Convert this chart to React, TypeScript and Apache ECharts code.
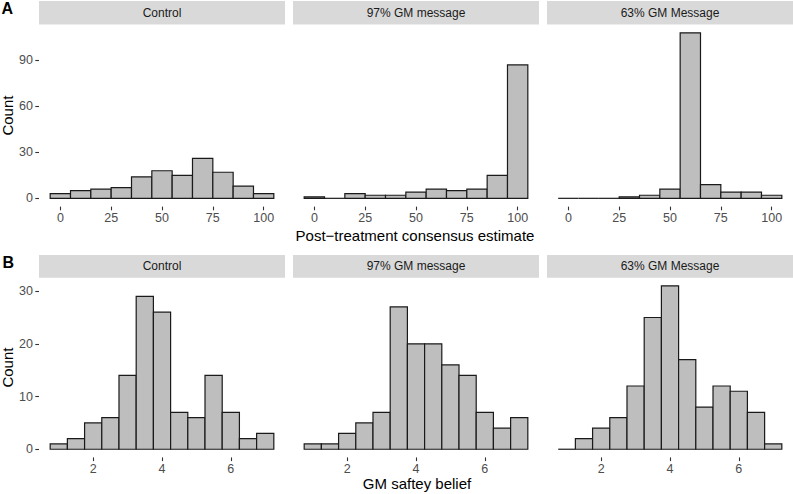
import React, { useEffect, useRef } from "react";
import * as echarts from "echarts";

// ---- Data ----
const facetNames = ["Control", "97% GM message", "63% GM Message"];

// Panel A: post-treatment consensus estimate (bin width 10)
const binCentersA = [0, 10, 20, 30, 40, 50, 60, 70, 80, 90, 100];
const controlA = [3, 5, 6, 7, 14, 18, 15, 26, 17, 8, 3];
const gm97A = [1, 0, 3, 2, 2, 4, 6, 5, 6, 15, 87];
const gm63A = [0, 0, 0, 1, 2, 6, 108, 9, 4, 4, 2];
const xTicksA = [0, 25, 50, 75, 100];
const yTicksA = [0, 30, 60, 90];

// Panel B: GM safety belief (bin width 0.5)
const binCentersB = [1, 1.5, 2, 2.5, 3, 3.5, 4, 4.5, 5, 5.5, 6, 6.5, 7];
const controlB = [1, 2, 5, 6, 14, 29, 26, 7, 6, 14, 7, 2, 3];
const gm97B = [1, 1, 3, 5, 7, 27, 20, 20, 16, 14, 7, 4, 6];
const gm63B = [0, 2, 4, 6, 12, 25, 31, 17, 8, 12, 11, 7, 1];
const xTicksB = [2, 4, 6];
const yTicksB = [0, 10, 20, 30];

const FONT = "Liberation Sans, Arial, Helvetica, sans-serif";

export default function App() {
  const ref = useRef<HTMLDivElement>(null);

  useEffect(() => {
    document.body.style.margin = "0";
    if (!ref.current) return;
    const chart = echarts.init(ref.current, undefined, { renderer: "svg" });

    const panelLeft = [39, 293, 547];
    const panelW = 246;
    const rows = [
      {
        top: 24.5,
        height: 182.1,
        stripTop: 1,
        centers: binCentersA,
        width: 10,
        series: [controlA, gm97A, gm63A],
        xTicks: xTicksA,
        yTicks: yTicksA,
      },
      {
        top: 277.7,
        height: 179.7,
        stripTop: 255,
        centers: binCentersB,
        width: 0.5,
        series: [controlB, gm97B, gm63B],
        xTicks: xTicksB,
        yTicks: yTicksB,
      },
    ];

    const grids: any[] = [];
    const xAxes: any[] = [];
    const yAxes: any[] = [];
    const series: any[] = [];
    const graphics: any[] = [];

    rows.forEach((row, r) => {
      const lo = row.centers[0] - row.width / 2;
      const hi = row.centers[row.centers.length - 1] + row.width / 2;
      const xPad = (hi - lo) * 0.05;
      const allMax = Math.max(...row.series.flat());
      const yPad = allMax * 0.05;
      row.series.forEach((vals, c) => {
        const idx = r * 3 + c;
        grids.push({
          left: panelLeft[c],
          top: row.top,
          width: panelW,
          height: row.height,
          outerBoundsMode: "none",
          containLabel: false,
        });
        xAxes.push({
          type: "value",
          gridIndex: idx,
          position: "bottom",
          min: lo - xPad,
          max: hi + xPad,
          axisLine: { show: false, onZero: false },
          splitLine: { show: false },
          axisTick: {
            show: true,
            customValues: row.xTicks,
            length: 3.7,
            lineStyle: { color: "#333333", width: 1.1 },
          },
          axisLabel: {
            show: true,
            customValues: row.xTicks,
            margin: 5,
            fontSize: 12.5,
            color: "#4D4D4D",
            fontFamily: FONT,
          },
        });
        yAxes.push({
          type: "value",
          gridIndex: idx,
          position: "left",
          min: -yPad,
          max: allMax + yPad,
          axisLine: { show: false, onZero: false },
          splitLine: { show: false },
          axisTick: {
            show: c === 0,
            customValues: row.yTicks,
            length: 3.7,
            lineStyle: { color: "#333333", width: 1.1 },
          },
          axisLabel: {
            show: c === 0,
            customValues: row.yTicks,
            margin: 6,
            fontSize: 12.5,
            color: "#4D4D4D",
            fontFamily: FONT,
          },
        });
        const w = row.width;
        series.push({
          type: "custom",
          xAxisIndex: idx,
          yAxisIndex: idx,
          clip: false,
          data: row.centers.map((x, i) => [x, vals[i]]),
          renderItem: (params: any, api: any) => {
            const x = api.value(0);
            const y = api.value(1);
            const p1 = api.coord([x - w / 2, y]);
            const p2 = api.coord([x + w / 2, 0]);
            if (y === 0) {
              return {
                type: "line",
                shape: { x1: p1[0], y1: p2[1], x2: p2[0], y2: p2[1] },
                style: { stroke: "#1A1A1A", lineWidth: 1.2 },
              };
            }
            return {
              type: "rect",
              shape: {
                x: p1[0],
                y: p1[1],
                width: p2[0] - p1[0],
                height: p2[1] - p1[1],
              },
              style: { fill: "#BEBEBE", stroke: "#1A1A1A", lineWidth: 1.2 },
            };
          },
        });
        // strip
        graphics.push({
          type: "rect",
          shape: {
            x: panelLeft[c],
            y: row.stripTop,
            width: panelW,
            height: row.top - row.stripTop,
          },
          style: { fill: "#D9D9D9" },
          silent: true,
        });
        graphics.push({
          type: "text",
          x: panelLeft[c] + panelW / 2,
          y: (row.stripTop + row.top) / 2,
          style: {
            text: facetNames[c],
            fontSize: 12,
            fontFamily: FONT,
            fill: "#1A1A1A",
            align: "center",
            verticalAlign: "middle",
          },
        });
      });
      // y title
      graphics.push({
        type: "text",
        x: 7.5,
        y: row.top + row.height / 2,
        rotation: Math.PI / 2,
        style: {
          text: "Count",
          fontSize: 15,
          fontFamily: FONT,
          fill: "#000000",
          align: "center",
          verticalAlign: "middle",
        },
      });
    });

    graphics.push({
      type: "text",
      x: 415,
      y: 235.5,
      style: {
        text: "Post\u2212treatment consensus estimate",
        fontSize: 15,
        fontFamily: FONT,
        fill: "#000000",
        align: "center",
        verticalAlign: "middle",
      },
    });
    graphics.push({
      type: "text",
      x: 417,
      y: 483.5,
      style: {
        text: "GM saftey belief",
        fontSize: 15,
        fontFamily: FONT,
        fill: "#000000",
        align: "center",
        verticalAlign: "middle",
      },
    });
    graphics.push({
      type: "text",
      x: 1.5,
      y: 8,
      style: {
        text: "A",
        fontSize: 16,
        fontWeight: "bold",
        fontFamily: FONT,
        fill: "#000000",
        align: "left",
        verticalAlign: "middle",
      },
    });
    graphics.push({
      type: "text",
      x: 2.5,
      y: 262,
      style: {
        text: "B",
        fontSize: 16,
        fontWeight: "bold",
        fontFamily: FONT,
        fill: "#000000",
        align: "left",
        verticalAlign: "middle",
      },
    });

    chart.setOption({
      animation: false,
      backgroundColor: "#FFFFFF",
      grid: grids,
      xAxis: xAxes,
      yAxis: yAxes,
      series,
      graphic: graphics,
    });

    return () => {
      chart.dispose();
    };
  }, []);

  return (
    <div
      ref={ref}
      style={{ position: "absolute", left: 0, top: 0, width: 793, height: 494 }}
    />
  );
}
